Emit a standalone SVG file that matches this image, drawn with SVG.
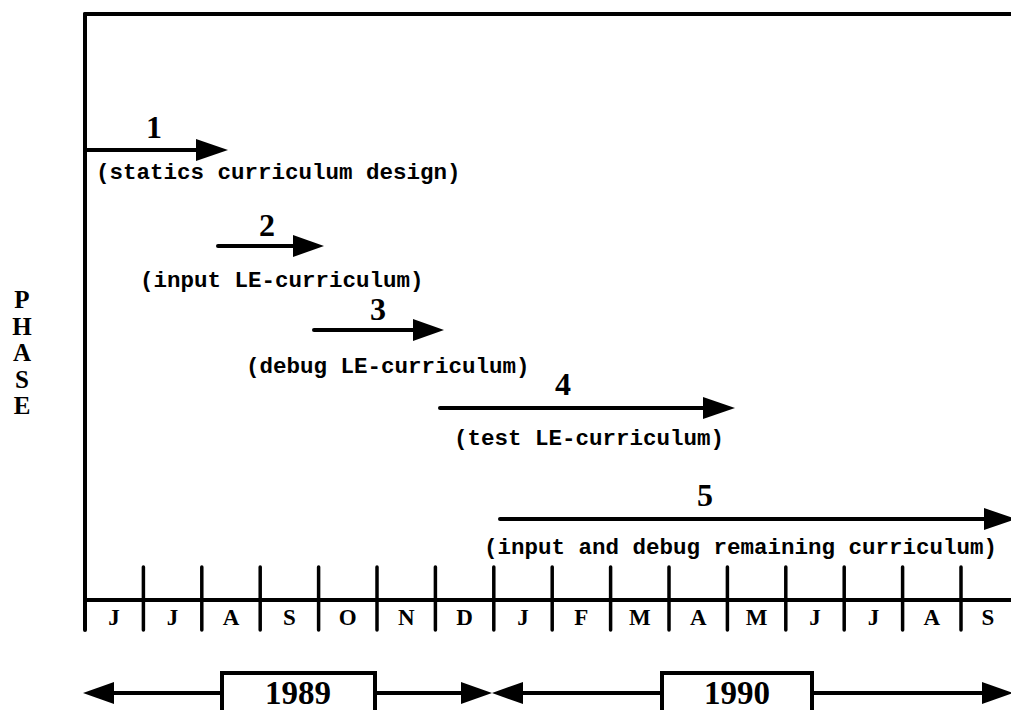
<svg xmlns="http://www.w3.org/2000/svg" width="1011" height="710" viewBox="0 0 1011 710">
<style>
.ln{stroke:#000;stroke-width:4;stroke-linecap:round;fill:none}
.tk{stroke:#000;stroke-width:3.5;stroke-linecap:round}
.hd{fill:#000}
.lbl{font-family:"Liberation Mono","Courier New",monospace;font-weight:bold;font-size:22.5px;fill:#000}
.num{font-family:"Liberation Serif","Times New Roman",serif;font-weight:bold;font-size:32px;fill:#000;text-anchor:middle}
.mo{font-family:"Liberation Serif","Times New Roman",serif;font-weight:bold;font-size:23px;fill:#000;text-anchor:middle}
.yr{font-family:"Liberation Serif","Times New Roman",serif;font-weight:bold;font-size:33px;fill:#000;text-anchor:middle}
.ph{font-family:"Liberation Serif","Times New Roman",serif;font-weight:bold;font-size:25px;fill:#000;text-anchor:middle}
</style>
<rect width="1011" height="710" fill="#fff"/>
<g id="frame">
<line class="ln" x1="85" y1="14" x2="1013" y2="14"/>
<line class="ln" x1="85" y1="14" x2="85" y2="630"/>
<line class="ln" x1="85" y1="600" x2="1013" y2="600"/>
</g>
<g id="phase-label">
<text class="ph" x="22" y="308">P</text>
<text class="ph" x="22" y="334.5">H</text>
<text class="ph" x="22" y="361">A</text>
<text class="ph" x="22" y="387.5">S</text>
<text class="ph" x="22" y="414">E</text>
</g>
<g id="connectors">
<line class="ln" x1="85" y1="150" x2="200" y2="150"/>
<polygon class="hd" points="196,139 228,150 196,161"/>
<line class="ln" x1="218" y1="246" x2="296" y2="246"/>
<polygon class="hd" points="293,235 324,246 293,257"/>
<line class="ln" x1="314" y1="330" x2="416" y2="330"/>
<polygon class="hd" points="413,319 444,330 413,341"/>
<line class="ln" x1="440" y1="408" x2="706" y2="408"/>
<polygon class="hd" points="703,397 735,408 703,419"/>
<line class="ln" x1="500" y1="519" x2="990" y2="519"/>
<polygon class="hd" points="984,508 1016,519 984,530"/>
</g>
<g id="phase1"><text class="num" x="154" y="138">1</text><text class="lbl" x="96" y="179">(statics curriculum design)</text></g>
<g id="phase2"><text class="num" x="267" y="236">2</text><text class="lbl" x="140" y="287">(input LE-curriculum)</text></g>
<g id="phase3"><text class="num" x="378" y="320">3</text><text class="lbl" x="246" y="373">(debug LE-curriculum)</text></g>
<g id="phase4"><text class="num" x="563" y="395">4</text><text class="lbl" x="454" y="445">(test LE-curriculum)</text></g>
<g id="phase5"><text class="num" x="705" y="506">5</text><text class="lbl" x="484" y="554">(input and debug remaining curriculum)</text></g>
<g id="ticks">
<line class="tk" x1="143.4" y1="567" x2="143.4" y2="630"/>
<line class="tk" x1="201.8" y1="567" x2="201.8" y2="630"/>
<line class="tk" x1="260.2" y1="567" x2="260.2" y2="630"/>
<line class="tk" x1="318.6" y1="567" x2="318.6" y2="630"/>
<line class="tk" x1="377" y1="567" x2="377" y2="630"/>
<line class="tk" x1="435.4" y1="567" x2="435.4" y2="630"/>
<line class="tk" x1="493.8" y1="567" x2="493.8" y2="630"/>
<line class="tk" x1="552.2" y1="567" x2="552.2" y2="630"/>
<line class="tk" x1="610.6" y1="567" x2="610.6" y2="630"/>
<line class="tk" x1="669" y1="567" x2="669" y2="630"/>
<line class="tk" x1="727.4" y1="567" x2="727.4" y2="630"/>
<line class="tk" x1="785.8" y1="567" x2="785.8" y2="630"/>
<line class="tk" x1="844.2" y1="567" x2="844.2" y2="630"/>
<line class="tk" x1="902.6" y1="567" x2="902.6" y2="630"/>
<line class="tk" x1="961" y1="567" x2="961" y2="630"/>
</g>
<g id="months">
<text class="mo" x="114" y="625">J</text>
<text class="mo" x="172.6" y="625">J</text>
<text class="mo" x="231" y="625">A</text>
<text class="mo" x="289.4" y="625">S</text>
<text class="mo" x="347.8" y="625">O</text>
<text class="mo" x="406.2" y="625">N</text>
<text class="mo" x="464.6" y="625">D</text>
<text class="mo" x="523" y="625">J</text>
<text class="mo" x="581.4" y="625">F</text>
<text class="mo" x="639.8" y="625">M</text>
<text class="mo" x="698.2" y="625">A</text>
<text class="mo" x="756.6" y="625">M</text>
<text class="mo" x="815" y="625">J</text>
<text class="mo" x="873.4" y="625">J</text>
<text class="mo" x="931.8" y="625">A</text>
<text class="mo" x="988" y="625">S</text>
</g>
<g id="year1989">
<line class="ln" x1="110" y1="693" x2="222" y2="693"/>
<polygon class="hd" points="83,693 114,682 114,704"/>
<rect x="222" y="673" width="153" height="50" fill="#fff" stroke="#000" stroke-width="4"/>
<text class="yr" x="298" y="704">1989</text>
<line class="ln" x1="375" y1="693" x2="465" y2="693"/>
<polygon class="hd" points="461,682 492,693 461,704"/>
</g>
<g id="year1990">
<polygon class="hd" points="492,693 523,682 523,704"/>
<line class="ln" x1="520" y1="693" x2="662" y2="693"/>
<rect x="662" y="673" width="150" height="50" fill="#fff" stroke="#000" stroke-width="4"/>
<text class="yr" x="737" y="704">1990</text>
<line class="ln" x1="812" y1="693" x2="985" y2="693"/>
<polygon class="hd" points="982,682 1013,693 982,704"/>
</g>
</svg>
